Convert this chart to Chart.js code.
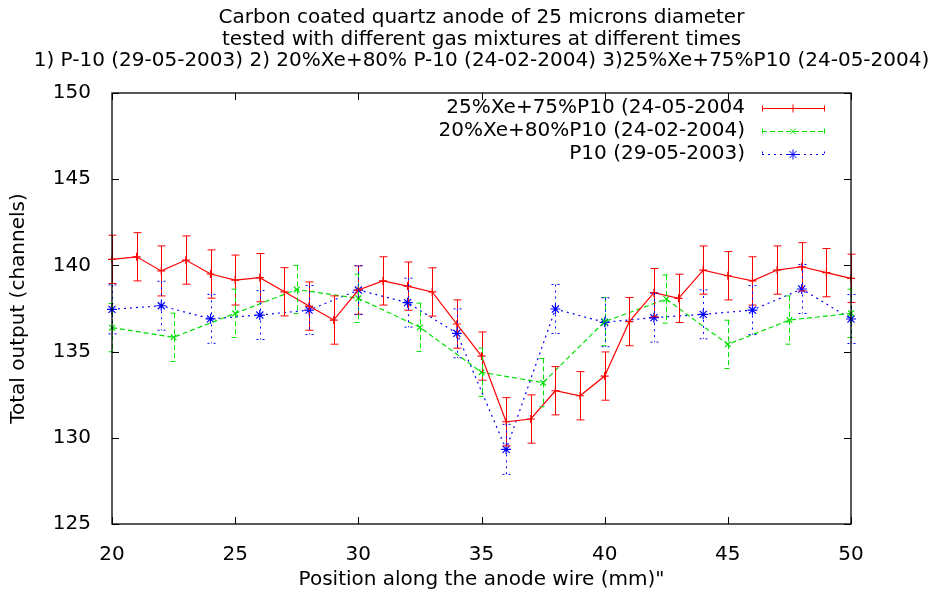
<!DOCTYPE html>
<html>
<head>
<meta charset="utf-8">
<script src="https://cdn.jsdelivr.net/npm/chart.js@4.4.1/dist/chart.umd.min.js"></script>
<style>
  html, body { margin: 0; padding: 0; background: #fff; }
  #wrap { width: 937px; height: 592px; }
</style>
</head>
<body>
<div id="wrap"><canvas id="chart" width="937" height="592"></canvas></div>
<script>
'use strict'

const titleLines = [
  'Carbon coated quartz anode of 25 microns diameter',
  'tested with different gas mixtures at different times',
  '1) P-10 (29-05-2003) 2) 20%Xe+80% P-10 (24-02-2004) 3)25%Xe+75%P10 (24-05-2004)'
]
const xLabel = 'Position along the anode wire (mm)"'
const yLabel = 'Total output (channels)'
const xTicks = [20, 25, 30, 35, 40, 45, 50]
const yTicks = [125, 130, 135, 140, 145, 150]
const seriesLabels = [
  '25%Xe+75%P10 (24-05-2004',
  '20%Xe+80%P10 (24-02-2004)',
  'P10 (29-05-2003)'
]

// 25%Xe+75%P10, 24-05-2004
const pos25Xe = [20, 21, 22, 23, 24, 25, 26, 27, 28, 29, 30, 31, 32, 33, 34, 35,
  36, 37, 38, 39, 40, 41, 42, 43, 44, 45, 46, 47, 48, 49, 50]
const out25Xe = [140.35, 140.5, 139.68, 140.31, 139.5, 139.15, 139.29, 138.47, 137.64, 136.83, 138.57,
  139.1, 138.8, 138.46, 136.6, 134.74, 130.93, 131.09, 132.73, 132.44, 133.58,
  136.74, 138.42, 138.09, 139.73, 139.4, 139.1, 139.73, 139.92, 139.58, 139.25]
const err25Xe = [1.4, 1.4, 1.45, 1.4, 1.4, 1.45, 1.4, 1.4, 1.4, 1.4, 1.4,
  1.4, 1.4, 1.4, 1.4, 1.4, 1.4, 1.4, 1.4, 1.4, 1.4,
  1.4, 1.4, 1.4, 1.4, 1.4, 1.4, 1.4, 1.4, 1.4, 1.4]

// 20%Xe+80%P10, 24-02-2004
const pos20Xe = [20, 22.5, 25, 27.5, 30, 32.5, 35, 37.5, 40, 42.5, 45, 47.5, 50]
const out20Xe = [136.39, 135.83, 137.22, 138.6, 138.09, 136.41, 133.8, 133.2, 136.74, 138.05, 135.42, 136.83, 137.22]
const err20Xe = [1.4, 1.4, 1.4, 1.4, 1.4, 1.4, 1.4, 1.4, 1.4, 1.4, 1.4, 1.4, 1.4]

// P10, 29-05-2003
const posP10 = [20, 22, 24, 26, 28, 30, 32, 34, 36, 38, 40, 42, 44, 46, 48, 50]
const outP10 = [137.45, 137.66, 136.9, 137.12, 137.41, 138.57, 137.84, 136.06, 129.33, 137.47,
  136.7, 136.97, 137.16, 137.41, 138.63, 136.89]
const errP10 = [1.42, 1.42, 1.42, 1.42, 1.42, 1.42, 1.42, 1.42, 1.45, 1.42, 1.42, 1.42, 1.42, 1.42, 1.42, 1.42]

const toPoints = (xs, ys) => xs.map((x, i) => ({ x, y: ys[i] }))

Chart.defaults.font.family = '"DejaVu Sans", sans-serif'
Chart.defaults.color = '#000000'

// three title lines centred over the plot box, not squeezed to its width
const titleBlock = {
  id: 'titleBlock',
  afterDraw(chart) {
    const { ctx, chartArea: a } = chart
    const rows = [18, 40, 61]
    ctx.save()
    ctx.font = '20px "DejaVu Sans"'
    ctx.fillStyle = '#000000'
    ctx.textAlign = 'center'
    ctx.textBaseline = 'middle'
    titleLines.forEach((line, i) => {
      ctx.fillText(line, (a.left + a.right) / 2, rows[i])
    })
    ctx.restore()
  }
}

// gnuplot style error bars, drawn from the scales
const errorBars = {
  id: 'errorBars',
  afterDatasetsDraw(chart) {
    const { ctx, scales: { x, y } } = chart
    chart.data.datasets.forEach((ds) => {
      ctx.save()
      ctx.strokeStyle = ds.borderColor
      ctx.lineWidth = 1
      ctx.setLineDash(ds.borderDash || [])
      ds.data.forEach((p, i) => {
        const px = Math.round(x.getPixelForValue(p.x)) + 0.5
        const top = y.getPixelForValue(p.y + ds.errors[i])
        const bot = y.getPixelForValue(p.y - ds.errors[i])
        ctx.beginPath()
        ctx.moveTo(px, top)
        ctx.lineTo(px, bot)
        ctx.moveTo(px - 4, top)
        ctx.lineTo(px + 4, top)
        ctx.moveTo(px - 4, bot)
        ctx.lineTo(px + 4, bot)
        ctx.stroke()
      })
      ctx.restore()
    })
  }
}

// box with inward ticks on all four sides
const frameTicks = {
  id: 'frameTicks',
  afterDraw(chart) {
    const { ctx, chartArea: a, scales: { x, y } } = chart
    const len = 7
    ctx.save()
    ctx.strokeStyle = '#000000'
    ctx.lineWidth = 1.3
    ctx.strokeRect(a.left, a.top, a.right - a.left, a.bottom - a.top)
    ctx.lineWidth = 1
    ctx.beginPath()
    x.ticks.forEach((t) => {
      const px = Math.round(x.getPixelForValue(t.value)) + 0.5
      ctx.moveTo(px, a.bottom)
      ctx.lineTo(px, a.bottom - len)
      ctx.moveTo(px, a.top)
      ctx.lineTo(px, a.top + len)
    })
    y.ticks.forEach((t) => {
      const py = Math.round(y.getPixelForValue(t.value)) + 0.5
      ctx.moveTo(a.left, py)
      ctx.lineTo(a.left + len, py)
      ctx.moveTo(a.right, py)
      ctx.lineTo(a.right - len, py)
    })
    ctx.stroke()
    ctx.restore()
  }
}

// key in the top right corner: text right aligned, sample on the right
const gnuLegend = {
  id: 'gnuLegend',
  afterDraw(chart) {
    const { ctx } = chart
    const rows = [108, 131, 154]
    ctx.save()
    ctx.font = '20px "DejaVu Sans"'
    ctx.textAlign = 'right'
    ctx.textBaseline = 'middle'
    chart.data.datasets.forEach((ds, i) => {
      const yy = rows[i] + 0.5
      ctx.fillStyle = '#000000'
      ctx.fillText(ds.label, 745, rows[i])
      ctx.strokeStyle = ds.borderColor
      ctx.fillStyle = ds.borderColor
      ctx.lineWidth = 1
      ctx.setLineDash(ds.borderDash || [])
      ctx.beginPath()
      ctx.moveTo(762, yy)
      ctx.lineTo(825, yy)
      ctx.moveTo(762.5, yy - 3)
      ctx.lineTo(762.5, yy + 3)
      ctx.moveTo(824.5, yy - 3)
      ctx.lineTo(824.5, yy + 3)
      ctx.stroke()
      ctx.setLineDash([])
      Chart.helpers.drawPoint(ctx, {
        pointStyle: ds.pointStyle,
        radius: ds.pointRadius,
        borderWidth: 1,
        rotation: 0
      }, 793, yy)
    })
    ctx.restore()
  }
}

const series = [
  { label: seriesLabels[0], data: toPoints(pos25Xe, out25Xe), errors: err25Xe,
    color: '#ff0000', dash: [], style: 'cross', radius: 4 },
  { label: seriesLabels[1], data: toPoints(pos20Xe, out20Xe), errors: err20Xe,
    color: '#00e000', dash: [5, 3], style: 'crossRot', radius: 4 },
  { label: seriesLabels[2], data: toPoints(posP10, outP10), errors: errP10,
    color: '#0000ff', dash: [2, 4], style: 'star', radius: 5 }
]

new Chart(document.getElementById('chart'), {
  type: 'scatter',
  data: {
    datasets: series.map((s) => ({
      label: s.label,
      data: s.data,
      errors: s.errors,
      showLine: true,
      borderColor: s.color,
      backgroundColor: s.color,
      borderWidth: 1.2,
      borderDash: s.dash,
      pointStyle: s.style,
      pointRadius: s.radius,
      pointBorderWidth: 1.2,
      pointBorderColor: s.color,
      pointHoverRadius: s.radius,
      clip: false
    }))
  },
  options: {
    responsive: false,
    animation: false,
    devicePixelRatio: 1,
    layout: {
      padding: { top: 93, right: 86, bottom: 0, left: 0 }
    },
    scales: {
      x: {
        type: 'linear',
        min: 20,
        max: 50,
        afterBuildTicks: (scale) => {
          scale.ticks = xTicks.map((v) => ({ value: v }))
        },
        afterFit: (scale) => {
          scale.height = 68
        },
        grid: { display: false },
        border: { display: false },
        ticks: {
          font: { size: 20 },
          padding: 11,
          maxRotation: 0
        },
        title: {
          display: true,
          text: xLabel,
          font: { size: 20 },
          padding: { top: 0, bottom: 0 }
        }
      },
      y: {
        type: 'linear',
        min: 125,
        max: 150,
        afterBuildTicks: (scale) => {
          scale.ticks = yTicks.map((v) => ({ value: v }))
        },
        afterFit: (scale) => {
          scale.width = 112
        },
        grid: { display: false },
        border: { display: false },
        ticks: {
          font: { size: 20 },
          padding: 13
        },
        title: {
          display: true,
          text: yLabel,
          font: { size: 20 },
          padding: { top: 7, bottom: 0 }
        }
      }
    },
    plugins: {
      legend: { display: false },
      tooltip: { enabled: false },
      title: { display: false }
    }
  },
  plugins: [titleBlock, errorBars, frameTicks, gnuLegend]
})
</script>
</body>
</html>
